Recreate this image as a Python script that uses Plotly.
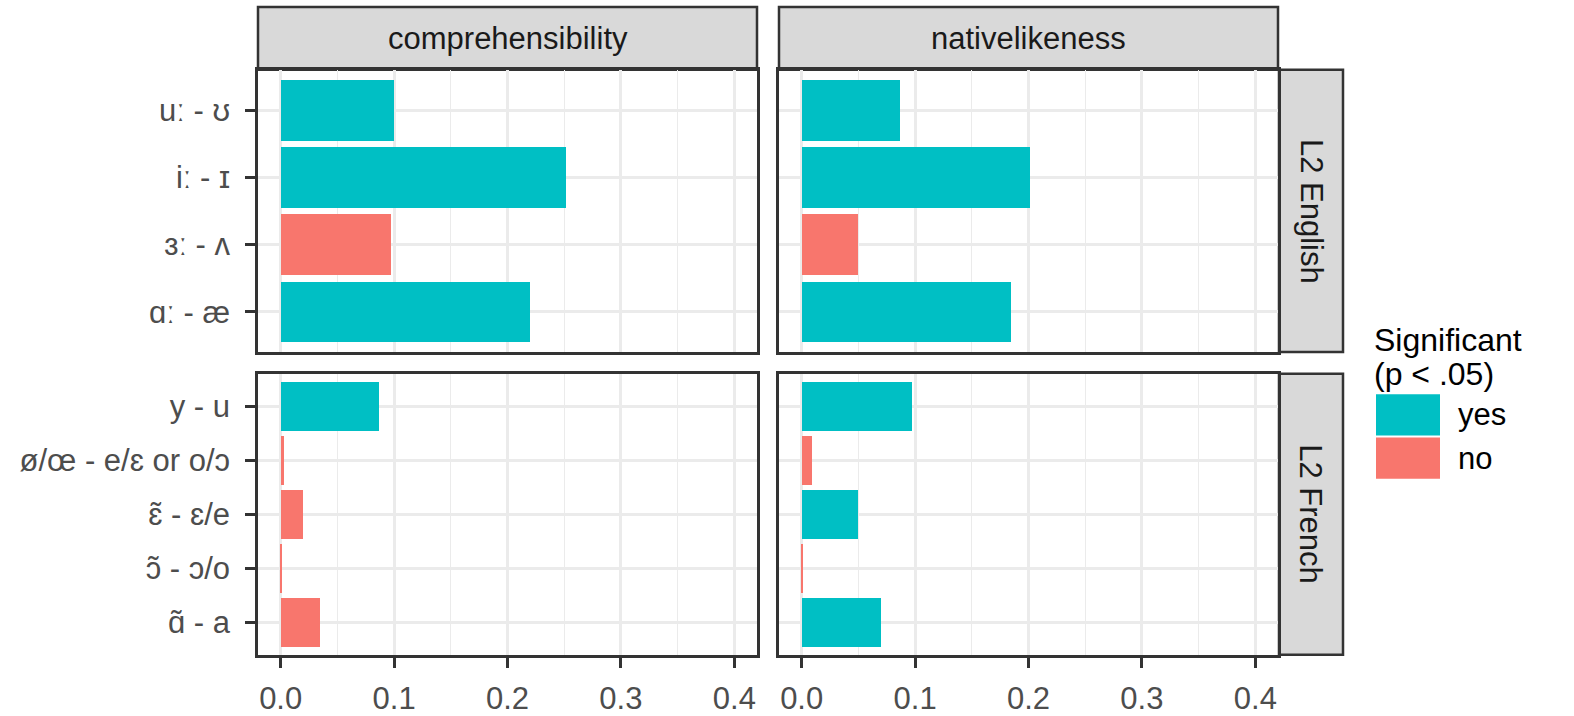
import plotly.graph_objects as go

# ---- data -------------------------------------------------------------
measures = ["comprehensibility", "nativelikeness"]
languages = ["L2 English", "L2 French"]

contrasts_en = ["uː - ʊ", "iː - ɪ", "ɜː - ʌ", "ɑː - æ"]
contrasts_fr = ["y - u", "ø/œ - e/ɛ or o/ɔ", "ɛ̃ - ɛ/e", "ɔ̃ - ɔ/o", "ɑ̃ - a"]

comp_en = [0.100, 0.252, 0.097, 0.220]
comp_en_sig = ["yes", "yes", "no", "yes"]
native_en = [0.087, 0.201, 0.050, 0.185]
native_en_sig = ["yes", "yes", "no", "yes"]

comp_fr = [0.087, 0.003, 0.020, 0.0015, 0.035]
comp_fr_sig = ["yes", "no", "no", "no", "no"]
native_fr = [0.097, 0.009, 0.050, 0.0015, 0.070]
native_fr_sig = ["yes", "no", "yes", "no", "yes"]

sig_levels = ["yes", "no"]
legend_title = ["Significant", "(p < .05)"]
x_ticks = [0.0, 0.1, 0.2, 0.3, 0.4]

# ---- styling ----------------------------------------------------------
W, H = 1574, 716
FONT = "Liberation Sans, Arial, DejaVu Sans, sans-serif"
COLORS = {"yes": "#00BFC4", "no": "#F8766D"}
BORDER = "#333333"
GRID = "#EBEBEB"
STRIP_BG = "#D9D9D9"
TICK_TXT = "#4D4D4D"
STRIP_TXT = "#1A1A1A"


def px_x(v):
    return v / W


def px_y(v):
    return 1 - v / H


# panel extents in pixels (left, right) / (top, bottom)
COLS = [(258, 757), (779, 1278)]
ROWS = [(71, 358), (380, 666)]

panels = [
    # (row, col, categories, values, significance)
    (0, 0, contrasts_en, comp_en, comp_en_sig),
    (0, 1, contrasts_en, native_en, native_en_sig),
    (1, 0, contrasts_fr, comp_fr, comp_fr_sig),
    (1, 1, contrasts_fr, native_fr, native_fr_sig),
]

fig = go.Figure()
layout = {}

for i, (r, c, cats, vals, sig) in enumerate(panels):
    n = i + 1
    suffix = "" if n == 1 else str(n)
    fig.add_trace(go.Bar(
        x=vals, y=cats, orientation="h", width=0.9,
        marker=dict(color=[COLORS[s] for s in sig], line=dict(width=0)),
        xaxis="x" + suffix, yaxis="y" + suffix, showlegend=False,
        hovertemplate="%{y}: %{x:.3f}<extra></extra>",
    ))
    bottom = r == 1
    left = c == 0
    layout["xaxis" + suffix] = dict(
        domain=[px_x(COLS[c][0]), px_x(COLS[c][1])],
        anchor="y" + suffix,
        range=[-0.02, 0.42],
        tickvals=x_ticks, ticktext=[f"{t:.1f}" for t in x_ticks],
        showticklabels=bottom,
        ticks="outside" if bottom else "",
        ticklen=10, tickwidth=3, tickcolor=BORDER,
        ticklabelstandoff=4,
        tickfont=dict(family=FONT, size=31, color=TICK_TXT),
        showgrid=True, gridcolor=GRID, gridwidth=2.5,
        minor=dict(tickvals=[0.05, 0.15, 0.25, 0.35], showgrid=True,
                   gridcolor=GRID, gridwidth=1.3, ticks=""),
        zeroline=False,
        showline=True, mirror=True, linecolor=BORDER, linewidth=2.5,
        fixedrange=True,
    )
    layout["yaxis" + suffix] = dict(
        domain=[px_y(ROWS[r][1]), px_y(ROWS[r][0])],
        anchor="x" + suffix,
        type="category",
        categoryorder="array", categoryarray=list(reversed(cats)),
        range=[-0.6, len(cats) - 0.4],
        showticklabels=left,
        ticks="outside" if left else "",
        ticklen=10, tickwidth=3, tickcolor=BORDER,
        ticklabelstandoff=9,
        tickfont=dict(family=FONT, size=31, color=TICK_TXT),
        showgrid=True, gridcolor=GRID, gridwidth=2.5,
        zeroline=False,
        showline=True, mirror=True, linecolor=BORDER, linewidth=2.5,
        fixedrange=True,
    )

shapes = []
annotations = []

# facet strips along the top (measures)
STRIP_TOP = (7, 71)
for c, label in enumerate(measures):
    x0, x1 = COLS[c]
    shapes.append(dict(type="rect", xref="paper", yref="paper",
                       x0=px_x(x0), x1=px_x(x1),
                       y0=px_y(STRIP_TOP[1]), y1=px_y(STRIP_TOP[0]),
                       fillcolor=STRIP_BG, line=dict(color=BORDER, width=2.5),
                       layer="below"))
    annotations.append(dict(text=label, xref="paper", yref="paper",
                            x=px_x((x0 + x1) / 2), y=px_y(sum(STRIP_TOP) / 2),
                            showarrow=False, xanchor="center", yanchor="middle",
                            font=dict(family=FONT, size=31, color=STRIP_TXT)))

# facet strips on the right (languages)
STRIP_RIGHT = (1279, 1343)
for r, label in enumerate(languages):
    y0, y1 = ROWS[r]
    shapes.append(dict(type="rect", xref="paper", yref="paper",
                       x0=px_x(STRIP_RIGHT[0]), x1=px_x(STRIP_RIGHT[1]),
                       y0=px_y(y1), y1=px_y(y0),
                       fillcolor=STRIP_BG, line=dict(color=BORDER, width=2.5),
                       layer="below"))
    annotations.append(dict(text=label, xref="paper", yref="paper",
                            x=px_x(sum(STRIP_RIGHT) / 2), y=px_y((y0 + y1) / 2),
                            showarrow=False, textangle=90,
                            xanchor="center", yanchor="middle",
                            font=dict(family=FONT, size=31, color=STRIP_TXT)))

# legend for the significance fill
LEG_X = 1376
TITLE_Y = [346, 380]
for line, ty in zip(legend_title, TITLE_Y):
    annotations.append(dict(text=line, xref="paper", yref="paper",
                            x=px_x(LEG_X - 4), y=px_y(ty),
                            showarrow=False, xanchor="left", yanchor="middle",
                            font=dict(family=FONT, size=32, color="#000000")))
KEY_W, KEY_H = 64, 44
key_top = 400
for k, lvl in enumerate(sig_levels):
    t = key_top + k * KEY_H
    shapes.append(dict(type="rect", xref="paper", yref="paper",
                       x0=px_x(LEG_X), x1=px_x(LEG_X + KEY_W),
                       y0=px_y(t + KEY_H - 1), y1=px_y(t + 1),
                       fillcolor=COLORS[lvl], line=dict(width=0)))
    annotations.append(dict(text=lvl, xref="paper", yref="paper",
                            x=px_x(LEG_X + KEY_W + 16), y=px_y(t + KEY_H / 2),
                            showarrow=False, xanchor="left", yanchor="middle",
                            font=dict(family=FONT, size=31, color="#000000")))

fig.update_layout(
    width=W, height=H,
    margin=dict(l=0, r=0, t=0, b=0),
    paper_bgcolor="white", plot_bgcolor="white",
    bargap=0, barmode="overlay",
    shapes=shapes, annotations=annotations,
    font=dict(family=FONT),
    **layout,
)

fig.write_html("out.html")
